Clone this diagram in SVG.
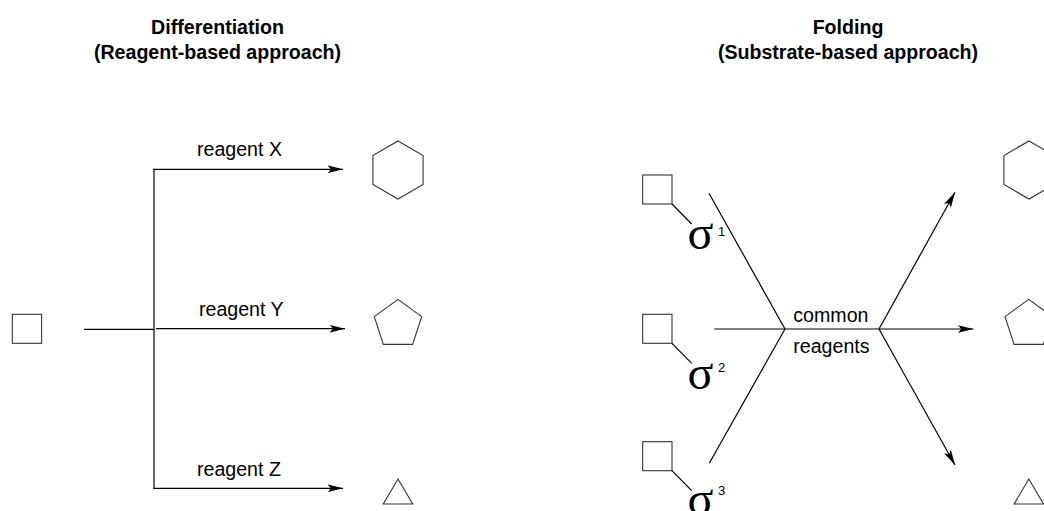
<svg xmlns="http://www.w3.org/2000/svg" width="1044" height="511" viewBox="0 0 1044 511">
  <style>
    .title { font-family: "Liberation Sans", Arial, sans-serif; font-weight: bold; font-size: 19.6px; fill: #000; text-anchor: middle; }
    .label { font-family: "Liberation Sans", Arial, sans-serif; font-size: 19.6px; fill: #000; }
    .sigma { font-family: "Liberation Serif", "Times New Roman", serif; font-size: 48px; fill: #000; }
    .sup { font-family: "Liberation Sans", Arial, sans-serif; font-size: 13px; fill: #000; }
    .shape { fill: none; stroke: #333; stroke-width: 1.1; }
    .link { fill: none; stroke: #000; stroke-width: 1.2; }
    .arrow { fill: none; stroke: #000; stroke-width: 1.2; marker-end: url(#head); }
  </style>
  <defs>
    <marker id="head" markerUnits="userSpaceOnUse" viewBox="0 0 16 9" refX="15.5" refY="4.5" markerWidth="16" markerHeight="9" orient="auto">
      <path d="M0,0.6 L15.5,4.5 L0,8.4 L3.5,4.5 Z" fill="#000"/>
    </marker>
  </defs>
  <rect width="1044" height="511" fill="#fff"/>

  <!-- headings -->
  <g id="title-differentiation">
    <text class="title" x="217.5" y="33.7">Differentiation</text>
    <text class="title" x="217.5" y="59.3">(Reagent-based approach)</text>
  </g>
  <g id="title-folding">
    <text class="title" x="848" y="33.7">Folding</text>
    <text class="title" x="848" y="59.3">(Substrate-based approach)</text>
  </g>

  <!-- differentiation: one substrate, three reagents -->
  <g id="start-square">
    <rect class="shape" x="12.3" y="314.3" width="29.3" height="29"/>
  </g>
  <g id="product-hexagon-left">
    <polygon class="shape" points="398,141 423.1,155.5 423.1,184.5 398,199 372.9,184.5 372.9,155.5"/>
  </g>
  <g id="product-pentagon-left">
    <polygon class="shape" points="398,299.4 421.7,316.6 412.6,344.4 383.4,344.4 374.3,316.6"/>
  </g>
  <g id="product-triangle-left">
    <polygon class="shape" points="398,479 412.7,504 383.3,504"/>
  </g>
  <g id="labels-left">
    <text class="label" x="197" y="155.7">reagent X</text>
    <text class="label" x="199" y="315.7">reagent Y</text>
    <text class="label" x="197" y="476">reagent Z</text>
  </g>

  <!-- folding: three substrates, common reagents -->
  <g id="substrate-1">
    <rect class="shape" x="642.7" y="175" width="29.3" height="29"/>
    <line class="link" x1="672" y1="204" x2="691.7" y2="224"/>
    <text class="sigma" x="687.5" y="248.5">σ</text>
    <text class="sup" x="718" y="236">1</text>
  </g>
  <g id="substrate-2">
    <rect class="shape" x="642.7" y="314.3" width="29.3" height="29"/>
    <line class="link" x1="672" y1="343.3" x2="691.7" y2="363.3"/>
    <text class="sigma" x="687.5" y="389">σ</text>
    <text class="sup" x="718" y="371.5">2</text>
  </g>
  <g id="substrate-3">
    <rect class="shape" x="642.7" y="441.7" width="29.3" height="29"/>
    <line class="link" x1="672" y1="470.7" x2="691.7" y2="490.7"/>
    <text class="sigma" x="687.5" y="515">σ</text>
    <text class="sup" x="718" y="494.5">3</text>
  </g>
  <g id="product-hexagon-right">
    <polygon class="shape" points="1029,141 1054.1,155.5 1054.1,184.5 1029,199 1003.9,184.5 1003.9,155.5"/>
  </g>
  <g id="product-pentagon-right">
    <polygon class="shape" points="1028.7,299.4 1052.4,316.6 1043.3,344.4 1014.1,344.4 1005,316.6"/>
  </g>
  <g id="product-triangle-right">
    <polygon class="shape" points="1028.8,479 1043.5,504 1014.1,504"/>
  </g>
  <g id="labels-right">
    <text class="label" x="793.3" y="321.7">common</text>
    <text class="label" x="793.3" y="352.7">reagents</text>
  </g>

  <!-- connectors -->
  <g id="connectors">
    <line class="link" x1="84" y1="329.3" x2="154" y2="329.3"/>
    <line class="link" x1="154" y1="168.7" x2="154" y2="488.9"/>
    <line class="arrow" x1="153.4" y1="169.3" x2="343" y2="169.3"/>
    <line class="arrow" x1="156" y1="328.7" x2="345" y2="328.7"/>
    <line class="arrow" x1="153.4" y1="488.3" x2="343" y2="488.3"/>

    <line class="link" x1="709" y1="193.3" x2="785" y2="329"/>
    <line class="link" x1="785" y1="329" x2="709.3" y2="463.3"/>
    <line class="arrow" x1="714.3" y1="329" x2="973.3" y2="329"/>
    <line class="arrow" x1="879" y1="329" x2="955" y2="192.3"/>
    <line class="arrow" x1="879" y1="329" x2="955" y2="465"/>
  </g>
</svg>
